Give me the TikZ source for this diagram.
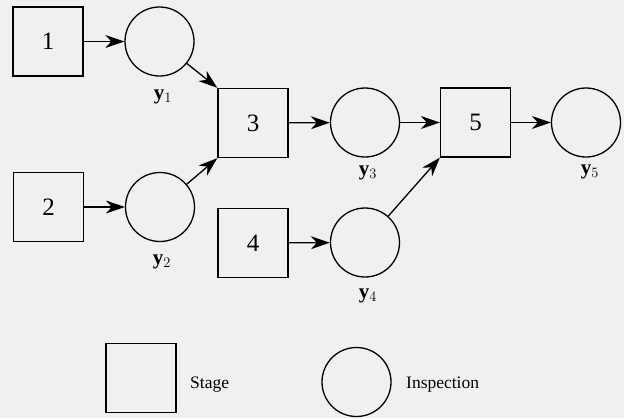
\documentclass[tikz,border=0pt]{standalone}
\usepackage{fontspec}
\setmainfont{Liberation Serif}
\usetikzlibrary{arrows.meta}
\begin{document}
\begin{tikzpicture}[x=1pt,y=-1pt,
  stagebox/.style={draw, line width=1.3pt, minimum width=70pt, minimum height=69pt,
    inner sep=0pt, font=\fontsize{25}{30}\selectfont},
  inspect/.style={draw, circle, line width=1.3pt, minimum size=69pt, inner sep=0pt},
  ylab/.style={font=\fontsize{21}{24}\selectfont, inner sep=0pt},
  legtext/.style={font=\fontsize{17.5}{20}\selectfont, inner sep=0pt},
  flow/.style={line width=1.3pt, -{Stealth[length=19pt, width=13pt, inset=6pt]}}]
  % paper background
  \fill[black!6] (0,0) rectangle (624,418);
  \useasboundingbox (0,0) rectangle (624,418);

  % stages
  \node[stagebox] (s1) at (48,41.5) {1};
  \node[stagebox] (s2) at (48.5,207) {2};
  \node[stagebox] (s3) at (253,123) {3};
  \node[stagebox] (s4) at (253,243) {4};
  \node[stagebox] (s5) at (475.5,122.5) {5};

  % inspections
  \node[inspect] (y1) at (159.5,41.5) {};
  \node[inspect] (y2) at (160,207) {};
  \node[inspect] (y3) at (365,122.5) {};
  \node[inspect] (y4) at (365,242.5) {};
  \node[inspect] (y5) at (586,122.5) {};

  % inspection labels
  \node[ylab] (l1) at (163,97) {$\mathbf{y}_1$};
  \node[ylab] (l2) at (162,262) {$\mathbf{y}_2$};
  \node[ylab] (l3) at (368,173) {$\mathbf{y}_3$};
  \node[ylab] (l4) at (368,296) {$\mathbf{y}_4$};
  \node[ylab] (l5) at (590,172) {$\mathbf{y}_5$};

  % material flow
  \draw[flow] (s1) -- (y1);
  \draw[flow] (s2) -- (y2);
  \draw[flow] (y1) -- (s3.north west);
  \draw[flow] (y2) -- (s3.south west);
  \draw[flow] (s3) -- (y3);
  \draw[flow] (s4) -- (y4);
  \draw[flow] (y3) -- (s5);
  \draw[flow] (y4) -- (s5.south west);
  \draw[flow] (s5) -- (y5);

  % legend
  \node[stagebox] (ls) at (141,378) {};
  \node[legtext, anchor=west] (lst) at (190,385) {Stage};
  \node[inspect] (li) at (356.5,382) {};
  \node[legtext, anchor=west] (lit) at (406,385) {Inspection};
\end{tikzpicture}
\end{document}
